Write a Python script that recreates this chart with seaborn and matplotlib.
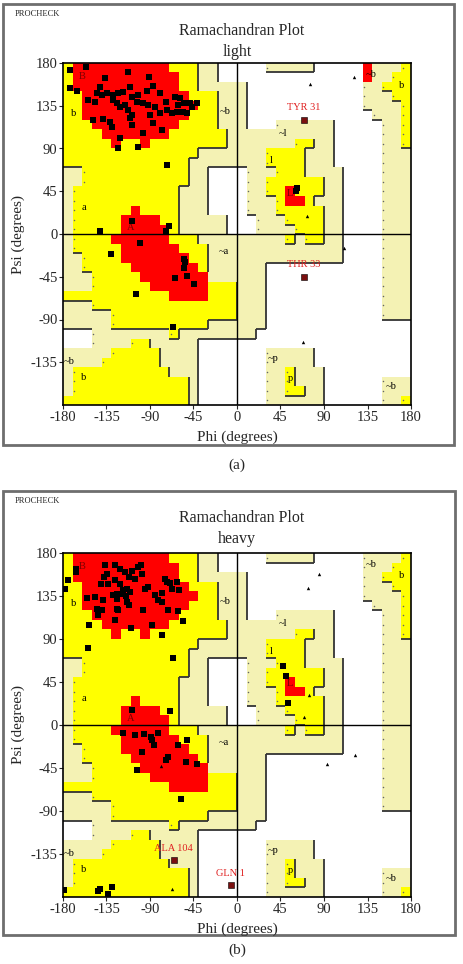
import numpy as np
import pandas as pd
import matplotlib
matplotlib.use("Agg")
import matplotlib.pyplot as plt
from matplotlib.colors import ListedColormap
from matplotlib.patches import Rectangle
from matplotlib.collections import LineCollection
import seaborn as sns

# PROCHECK region map, 10 degree cells.
# rows: psi 180 (top) down to -180, cols: phi -180 .. 0 (left) and 0 .. 180 (right)
# W = disallowed, P = generously allowed, Y = additional allowed, R = most favoured
left_half = [
    "YRRRRRRRRRRYYYPPWW", "YRRRRRRRRRRRYYPPWW", "YRRRRRRRRRRRYYPPPP",
    "YYRRRRRRRRRRRYYYPP", "YYRRRRRRRRRRRRYYPP", "YYRRRRRRRRRRRYYYPP",
    "YYYRRRRRRRRRYYYYPP", "YYYYRRRRRRRYYYYYYP", "YYYYYRYYRYYYYYYYYP",
    "YYYYYYYYYYYYYYPPPP", "YYYYYYYYYYYYYPPPPP", "PPYYYYYYYYYYYPPWWW",
    "PPYYYYYYYYYYYPPWWW", "PYYYYYYYYYYYPPPWWW", "PYYYYYYYYYYYPPPWWW",
    "PYYYYYYRYYYYPPPWWW", "PYYYYYRRRRYYPPPPPW", "PYYYYYRRRRRYPPPPPW",
    "PYYYYRRRRRRYYYPPPP", "PYYYYYRRRRRRYYYPPP", "PPYYYYRRRRRRRYYPPP",
    "PPYYYYYRRRRRRRYPPP", "PPPYYYYYRRRRRRRPPP", "PPPYYYYYYRRRRRRYYY",
    "YYYYYYYYYYYRRRRYYY", "PPPYYYYYYYYYYYYYYY", "PPPPPYYYYYYYYYYYYY",
    "PPPPPYYYYYYYYYYPPP", "WWWPPPPPPPPYPPPPPP", "WWWPPPPYYPPPPPWWWW",
    "PPPPPYYYYYPPPPWWWW", "PPPPYYYYYYPPPPWWWW", "PYYYYYYYYYYPPPWWWW",
    "PYYYYYYYYYYYYPWWWW", "PYYYYYYYYYYYYPWWWW", "YYYYYYYYYYYYYPWWWW",
]
right_half = [
    "WWWPPPPPWWWWWPPPPY", "WWWWWWWWWWWWWPPPYY", "PWWWWWWWWWWWWPPYYY",
    "PWWWWWWWWWWWWPPPYY", "PWWWWWWWWWWWWPPPPY", "PWWWWWWWWWWWWWPPPY",
    "PWWWPPPPPPWWWWWPPY", "PPPPPPPPPPWWWWWPPY", "PPPPPPYYPPWWWWWPPY",
    "PPPYYYYPPPWWWWWPPP", "PPPYYYYPPPWWWWWPPP", "WPPPYYYPPPPWWWWPPP",
    "WPPYYYYYYPPWWWWPPP", "WPPYYRYYYPPWWWWPPP", "WPPPYRRYPPPWWWWPPP",
    "WPPPYYYYYPPWWWWPPP", "WWPPPYYYYPPWWWWPPP", "WWPPPPYYYPPWWWWPPP",
    "PPPPPYPYYPPWWWWPPP", "PPPPPPPPPPPWWWWPPP", "PPPPPPPPPPPWWWWPPP",
    "PPPWWWWWWWWWWWWPPP", "PPPWWWWWWWWWWWWPPP", "PPPWWWWWWWWWWWWPPP",
    "PPPWWWWWWWWWWWWPPP", "PPPWWWWWWWWWWWWPPP", "PPPWWWWWWWWWWWWPPP",
    "PPPWWWWWWWWWWWWWWW", "PPWWWWWWWWWWWWWWWW", "WWWWWWWWWWWWWWWWWW",
    "WWWPPPPPWWWWWWWWWW", "WWWPPPPPWWWWWWWWWW", "WWWPPYPPPWWWWWWWWW",
    "WWWPPYPPPWWWWWWPPP", "WWWPPYYPPWWWWWWPPP", "WWWPPPPPPWWWWWWPPY",
]
extra_red_light = [(0, 31), (1, 31)]

region_labels = ["B", "b", "~b", "a", "A", "~a", "~b", "b", "~l", "l", "L", "~b", "b", "~p", "p", "~b"]
region_label_phi = [-160, -169, -12, -158, -110, -14, -174, -159, 48, 35, 55, 139, 170, 37, 55, 159]
region_label_psi = [166, 127, 129, 28, 7, -18, -134, -151, 106, 77, 43, 168, 156, -131, -152, -161]

# residues, panel (a) "light"
light_phi = [-172.8, -156.2, -112.4, -90.7, -136.6, -172.8, -165.9, -141.7, -145.2, -140.0,
             -134.8, -127.9, -122.8, -117.6, -110.7, -109.0, -102.1, -93.5, -86.6, -79.7,
             -73.5, -64.2, -59.0, -54.9, -48.7, -41.8, -60.7, -153.8, -146.9, -127.9,
             -124.5, -121.0, -115.9, -112.4, -109.0, -103.8, -96.9, -91.8, -84.9, -90.0,
             -86.6, -79.7, -72.8, -67.6, -62.5, -55.6, -52.1, -46.9, -148.6, -138.3,
             -129.7, -131.4, -110.7, -109.0, -96.9, -78.0, -121.0, -102.1, -122.8, -72.8,
             -141.7, -73.5, -70.0, -109.0, -100.4, -130.7, -54.9, -53.8, -54.9, -64.2,
             -52.1, -44.2, -104.5, -65.9, 61.6, 60.6]
light_psi = [172.7, 176.2, 170.9, 165.0, 163.9, 153.4, 150.9, 154.4, 148.1, 146.4,
             148.1, 146.4, 148.8, 149.9, 155.1, 144.6, 146.4, 150.9, 155.8, 148.1,
             139.3, 144.6, 142.8, 137.6, 138.3, 137.6, 135.8, 141.1, 139.3, 141.1,
             137.6, 134.1, 135.8, 130.6, 125.3, 139.3, 137.6, 135.8, 134.1, 125.3,
             116.5, 127.1, 130.6, 127.1, 128.8, 128.8, 127.1, 134.1, 120.0, 120.7,
             113.0, 118.3, 121.8, 114.8, 106.0, 109.5, 100.7, 91.3, 90.2, 72.3,
             3.5, 3.5, 8.5, 13.7, -9.8, -21.4, -25.9, -29.1, -36.1, -45.9,
             -44.2, -53.0, -62.8, -97.5, 48.1, 45.6]
light_gly_phi = [75.4, 120.9, 72.6, 110.6, 68.5]
light_gly_psi = [157.9, 165.0, 19.3, -14.4, -113.6]
light_lab = ["TYR 31", "THR 33"]
light_lab_phi = [69.2, 69.2]
light_lab_psi = [120.0, -45.2]

# residues, panel (b) "heavy"
heavy_phi = [-166.9, -166.9, -175.2, -178.0, -155.6, -136.6, -126.3, -121.1, -115.9, -109.0,
             -102.8, -99.4, -98.7, -105.6, -111.8, -134.9, -137.3, -140.7, -133.1, -126.3,
             -121.1, -117.6, -114.2, -110.7, -115.2, -119.4, -124.5, -128.0, -124.5, -138.3,
             -146.9, -145.2, -140.0, -124.5, -122.8, -114.2, -111.8, -95.2, -92.5, -84.9,
             -81.4, -78.0, -77.3, -74.6, -72.8, -69.4, -62.5, -67.7, -60.1, -71.1,
             -61.5, -56.3, -97.0, -126.3, -143.5, -153.1, -109.7, -88.3, -78.0, -153.8,
             -65.9, -109.0, -69.4, -117.6, -105.6, -95.9, -89.0, -88.3, -82.1, -85.6,
             -98.0, -103.8, -71.8, -73.9, -60.8, -52.1, -53.2, -41.8, -58.3, -178.6,
             -144.2, -141.8, -133.1, -129.0, 47.2, 50.6, 53.0]
heavy_psi = [163.6, 160.1, 151.4, 142.7, 133.3, 167.1, 167.1, 163.6, 160.1, 161.2,
             165.4, 167.1, 158.4, 153.2, 154.9, 158.4, 154.9, 147.9, 147.9, 151.4,
             147.9, 141.0, 142.7, 139.2, 134.7, 137.5, 137.5, 135.7, 132.2, 130.5,
             134.0, 121.8, 120.0, 121.8, 120.0, 128.7, 125.2, 142.7, 144.4, 135.7,
             130.5, 128.7, 138.2, 153.2, 149.7, 148.6, 149.7, 142.7, 141.0, 120.0,
             119.0, 108.8, 120.7, 110.2, 114.8, 104.3, 101.9, 104.3, 93.8, 80.9,
             70.5, 16.0, 14.6, -8.4, -10.9, -9.1, -12.6, -15.4, -8.4, -20.6,
             -28.7, -46.8, -33.5, -36.3, -21.3, -16.1, -38.8, -40.5, -77.2, -172.4,
             -174.2, -171.4, -176.6, -169.7, 61.4, 50.9, 23.0]
heavy_gly_phi = [85.1, 73.7, 74.4, 69.2, 122.0, 92.7, -78.7, -67.7]
heavy_gly_psi = [158.4, 143.7, 31.0, 8.3, -31.8, -40.5, -43.3, -171.4]
heavy_lab = ["ALA 104", "GLN 1"]
heavy_lab_phi = [-65.6, -6.3]
heavy_lab_psi = [-141.7, -167.9]

W, H = 464, 964
fig = plt.figure(figsize=(W / 100, H / 100), dpi=100)
sns.set_style("white")
plt.rcParams["font.family"] = ["Liberation Serif", "DejaVu Serif"]

level = {"W": 0, "P": 1, "Y": 2, "R": 3}
cmap = ListedColormap(["#ffffff", "#f4f2b4", "#ffff00", "#ff0000"])
edges = np.arange(-180, 181, 10)


def fx(x):
    return x / W


def fy(y):
    return 1 - y / H


def make_grid(extra_red=()):
    g = np.array([[level[ch] for ch in l + r] for l, r in zip(left_half, right_half)])
    for rr, cc in extra_red:
        g[rr, cc] = 3
    return g


def draw_panel(ax, grid, pts_phi, pts_psi, gly_phi, gly_psi, lab, lab_phi, lab_psi):
    ax.pcolormesh(edges, edges, grid[::-1], cmap=cmap, vmin=-0.5, vmax=3.5, zorder=0)
    # shadow lines on the right / bottom edges of the shaded regions
    segs, dots = [], []
    for r in range(36):
        top = 180 - 10 * r
        for c in range(36):
            lv = grid[r, c]
            left = -180 + 10 * c
            if lv in (1, 2):
                if c < 35 and grid[r, c + 1] < lv:
                    segs.append([(left + 10, top - 10), (left + 10, top)])
                if r < 35 and grid[r + 1, c] < lv:
                    segs.append([(left, top - 10), (left + 10, top - 10)])
                if c > 0 and grid[r, c - 1] < lv:
                    dots.append((left + 1.5, top - 5))
    ax.add_collection(LineCollection(segs, colors="#333333", linewidths=1.3, zorder=1))
    if dots:
        d = np.array(dots)
        ax.scatter(d[:, 0], d[:, 1], s=1.2, color="#666666", zorder=1, linewidths=0)
    ax.axhline(0, color="black", lw=1, zorder=2)
    ax.axvline(0, color="black", lw=1, zorder=2)

    for t, p, s in zip(region_labels, region_label_phi, region_label_psi):
        col = "#7a0000" if t in ("A", "B", "L") else "black"
        ax.text(p, s, t, fontsize=7.5, color=col, ha="center", va="center", zorder=3)

    res = pd.DataFrame({"phi": pts_phi, "psi": pts_psi})
    sns.scatterplot(data=res, x="phi", y="psi", marker="s", s=18, color="black",
                    linewidth=0, ax=ax, zorder=4)
    gly = pd.DataFrame({"phi": gly_phi, "psi": gly_psi})
    sns.scatterplot(data=gly, x="phi", y="psi", marker="^", s=6, color="black",
                    linewidth=0, ax=ax, zorder=4)
    labd = pd.DataFrame({"phi": lab_phi, "psi": lab_psi})
    sns.scatterplot(data=labd, x="phi", y="psi", marker="s", s=18, color="#7a1010",
                    edgecolor="black", linewidth=0.4, ax=ax, zorder=5)
    for t, p, s in zip(lab, lab_phi, lab_psi):
        ax.text(p, s + 8, t, fontsize=7.5, color="#e02020", ha="center", va="bottom", zorder=6)

    ax.set_xlim(-180, 180)
    ax.set_ylim(-180, 180)
    ax.set_xticks([-180, -135, -90, -45, 0, 45, 90, 135, 180])
    ax.set_yticks([180, 135, 90, 45, 0, -45, -90, -135])
    ax.set_xticklabels(["-180", "-135", "-90", "-45", "0", "45", "90", "135", "180"])
    ax.set_yticklabels(["180", "135", "90", "45", "0", "-45", "-90", "-135"])
    ax.tick_params(labelsize=10.5, length=3, width=0.8, direction="out", pad=1,
                   left=True, bottom=True)
    ax.set_xlabel("")
    ax.set_ylabel("")
    for sp in ax.spines.values():
        sp.set_color("black")
        sp.set_linewidth(1.2)
        sp.set_visible(True)


panels = [
    dict(box=(3, 4, 454, 445), top=63, bottom=405, sub="light", cap="(a)", cap_y=465,
         grid=make_grid(extra_red_light),
         data=(light_phi, light_psi, light_gly_phi, light_gly_psi, light_lab, light_lab_phi, light_lab_psi)),
    dict(box=(3, 491, 455, 935), top=553, bottom=897, sub="heavy", cap="(b)", cap_y=950,
         grid=make_grid(),
         data=(heavy_phi, heavy_psi, heavy_gly_phi, heavy_gly_psi, heavy_lab, heavy_lab_phi, heavy_lab_psi)),
]

for pnl in panels:
    x0, y0, x1, y1 = pnl["box"]
    fig.patches.append(Rectangle((fx(x0), fy(y1)), fx(x1 - x0), (y1 - y0) / H,
                                 transform=fig.transFigure, fill=False,
                                 edgecolor="#6e6e6e", linewidth=2))
    fig.text(fx(15), fy(y0 + 10), "PROCHECK", fontsize=6, ha="left", va="center")
    fig.text(fx(242), fy(y0 + 27), "Ramachandran Plot", fontsize=11.5, ha="center", va="center")
    fig.text(fx(237), fy(y0 + 48), pnl["sub"], fontsize=11.5, ha="center", va="center")
    top, bottom = pnl["top"], pnl["bottom"]
    ax = fig.add_axes([fx(63), fy(bottom), fx(411 - 63), (bottom - top) / H])
    draw_panel(ax, pnl["grid"], *pnl["data"])
    fig.text(fx(237), fy(bottom + 32), "Phi (degrees)", fontsize=11, ha="center", va="center")
    fig.text(fx(18), fy((top + bottom) / 2), "Psi (degrees)", fontsize=11, rotation=90,
             ha="center", va="center")
    fig.text(fx(237), fy(pnl["cap_y"]), pnl["cap"], fontsize=11, ha="center", va="center")

fig.savefig("out.png", dpi=100)
